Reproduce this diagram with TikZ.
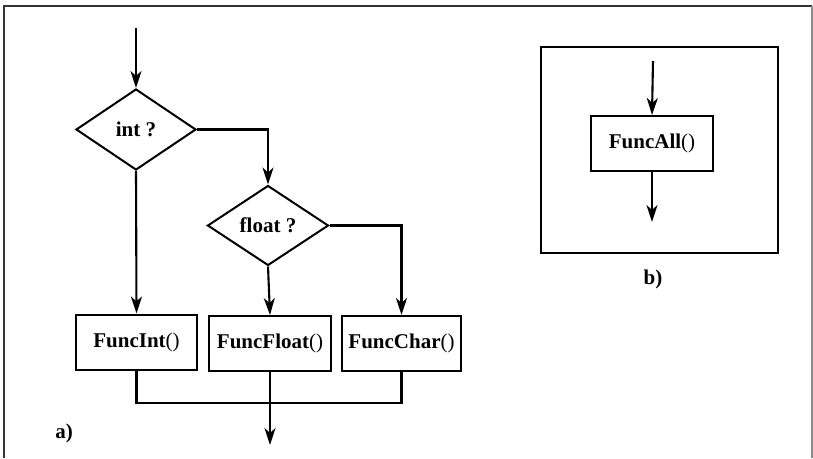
\documentclass[tikz,border=0pt]{standalone}
\usepackage{fontspec}
\setmainfont{Liberation Serif}
\usetikzlibrary{shapes.geometric,arrows.meta}
\begin{document}
\begin{tikzpicture}[x=1pt,y=-1pt,
  lbl/.style={font=\fontsize{21}{24}\selectfont\bfseries},
  dia/.style={diamond,draw,line width=2pt,inner sep=0pt,lbl},
  fbox/.style={rectangle,draw,line width=2pt,inner sep=0pt,lbl,minimum height=55pt},
  conn/.style={line width=2.1pt},
  arr/.style={conn,-{Stealth[length=17pt,width=11pt,inset=5pt]}}]
\useasboundingbox (0,0) rectangle (813,458);
% outer frame (open at the bottom)
\draw[line width=1.5pt,black!80] (4,458) -- (4,6) -- (812,6);
\draw[line width=1.5pt,black!45] (812,6) -- (812,458);
% part a)
\coordinate (start) at (136,28);
\node[dia,minimum width=120pt,minimum height=81pt] (int) at (136,129.5) {int ?};
\node[dia,minimum width=121pt,minimum height=80pt] (float) at (268,225.5) {float ?};
\node[fbox,minimum width=121pt] (fint) at (136.5,342) {FuncInt{\mdseries()}};
\node[fbox,minimum width=122pt] (ffloat) at (270,343.5) {FuncFloat{\mdseries()}};
\node[fbox,minimum width=119pt] (fchar) at (401.5,343.5) {FuncChar{\mdseries()}};
\coordinate (j) at (270,403);
\coordinate (aend) at (270,445);
\draw[arr] (start) -- (int.north);
\draw[arr] (int.east) -| (float.north);
\draw[arr] (int.south) -- (fint.north);
\draw[arr] (float.south) -- (ffloat.north);
\draw[arr] (float.east) -| (fchar.north);
\draw[conn] (fint.south) |- (j) -| (fchar.south);
\draw[arr] (ffloat.south) -- (aend);
\node[lbl] (la) at (64,433) {a)};
% part b)
\node[draw,line width=2pt,minimum width=237pt,minimum height=206pt,inner sep=0pt] (bframe) at (659.5,150) {};
\coordinate (bstart) at (653,61);
\node[fbox,minimum width=122pt] (fall) at (652,143.5) {FuncAll{\mdseries()}};
\coordinate (bend) at (652,222);
\draw[arr] (bstart) -- (fall.north);
\draw[arr] (fall.south) -- (bend);
\node[lbl] (lb) at (653,279) {b)};
\end{tikzpicture}
\end{document}
